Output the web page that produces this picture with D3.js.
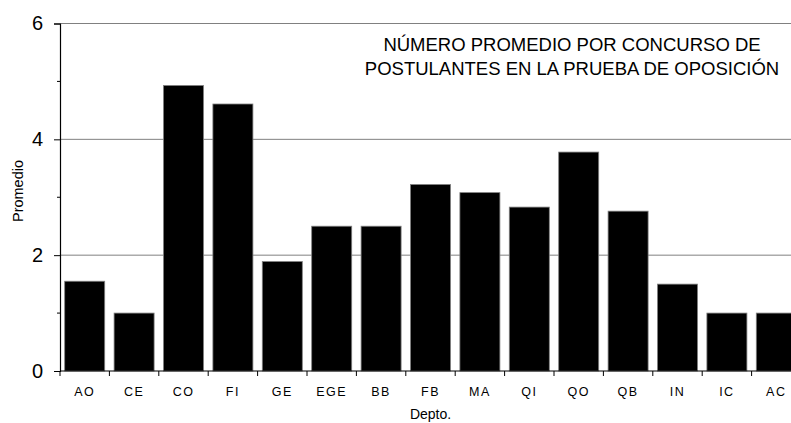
<!DOCTYPE html>
<html>
<head>
<meta charset="utf-8">
<script src="https://cdn.jsdelivr.net/npm/d3@7/dist/d3.min.js"></script>
<style>
  body { margin: 0; background: #fff; }
  svg { display: block; font-family: "Liberation Sans", Arial, sans-serif; }
</style>
</head>
<body>
<svg id="chart" width="791" height="423"></svg>
<script>
const categories = ["AO", "CE", "CO", "FI", "GE", "EGE", "BB", "FB", "MA", "QI", "QO", "QB", "IN", "IC", "AC"];
const promedio = [1.55, 1.0, 4.93, 4.61, 1.89, 2.5, 2.5, 3.22, 3.08, 2.83, 3.78, 2.76, 1.5, 1.0, 1.0];
const yTicks = [0, 2, 4, 6];
const yMinorTicks = [1, 3, 5];
const titleLines = ["NÚMERO PROMEDIO POR CONCURSO DE", "POSTULANTES EN LA PRUEBA DE OPOSICIÓN"];

const svg = d3.select("#chart");
// plot area runs past the right edge of the picture, like the original
const plot = {left: 60, top: 23.5, right: 801, bottom: 371};

const x = d3.scaleBand()
    .domain(categories)
    .range([plot.left, plot.right])
    .paddingInner(0.19)
    .paddingOuter(0.095);

const y = d3.scaleLinear()
    .domain([0, 6])
    .range([plot.bottom, plot.top]);

// gridlines
svg.append("g")
    .selectAll("line")
    .data(yTicks.filter(d => d > 0))
    .join("line")
    .attr("x1", plot.left)
    .attr("x2", plot.right)
    .attr("y1", d => y(d))
    .attr("y2", d => y(d))
    .attr("stroke", "#808080")
    .attr("stroke-width", 1);

// bars
svg.append("g")
    .selectAll("rect")
    .data(categories)
    .join("rect")
    .attr("x", d => x(d))
    .attr("y", (d, i) => y(promedio[i]))
    .attr("width", x.bandwidth())
    .attr("height", (d, i) => y(0) - y(promedio[i]))
    .attr("fill", "#000")
    .attr("stroke", "#808080")
    .attr("stroke-width", 0.8);

// y axis
const yAxis = svg.append("g")
    .attr("transform", `translate(${plot.left},0)`)
    .call(d3.axisLeft(y).tickValues(yTicks).tickSize(6).tickPadding(11).tickFormat(d3.format("d")));
yAxis.select(".domain").attr("stroke", "#000").attr("stroke-width", 1.2);
yAxis.selectAll(".tick line").attr("stroke", "#000");
yAxis.selectAll("text")
    .attr("font-size", 20)
    .attr("font-family", "Liberation Sans, Arial, sans-serif")
    .attr("fill", "#000");

svg.append("g")
    .selectAll("line")
    .data(yMinorTicks)
    .join("line")
    .attr("x1", plot.left - 3)
    .attr("x2", plot.left)
    .attr("y1", d => y(d))
    .attr("y2", d => y(d))
    .attr("stroke", "#000");

// x axis: ticks between categories
const xAxis = svg.append("g")
    .attr("transform", `translate(0,${plot.bottom})`);
xAxis.append("line")
    .attr("x1", plot.left)
    .attr("x2", plot.right)
    .attr("stroke", "#000")
    .attr("stroke-width", 1);
const step = x.step();
xAxis.selectAll("line.tk")
    .data(categories)
    .join("line")
    .attr("class", "tk")
    .attr("x1", d => x(d) - x.paddingOuter() * step)
    .attr("x2", d => x(d) - x.paddingOuter() * step)
    .attr("y1", 0)
    .attr("y2", 5)
    .attr("stroke", "#000");
xAxis.selectAll("text")
    .data(categories)
    .join("text")
    .attr("x", d => x(d) + x.bandwidth() / 2)
    .attr("y", 25)
    .attr("text-anchor", "middle")
    .attr("font-size", 12.5)
    .attr("letter-spacing", 1.5)
    .attr("fill", "#000")
    .text(d => d);

// axis titles
svg.append("text")
    .attr("x", (plot.left + plot.right) / 2)
    .attr("y", 419)
    .attr("text-anchor", "middle")
    .attr("font-size", 14)
    .text("Depto.");

svg.append("text")
    .attr("transform", "translate(23,191) rotate(-90)")
    .attr("text-anchor", "middle")
    .attr("font-size", 14.5)
    .text("Promedio");

// title
svg.append("g")
    .selectAll("text")
    .data(titleLines)
    .join("text")
    .attr("x", 572)
    .attr("y", (d, i) => 51 + i * 24)
    .attr("text-anchor", "middle")
    .attr("font-size", 18.5)
    .attr("fill", "#000")
    .text(d => d);
</script>
</body>
</html>
